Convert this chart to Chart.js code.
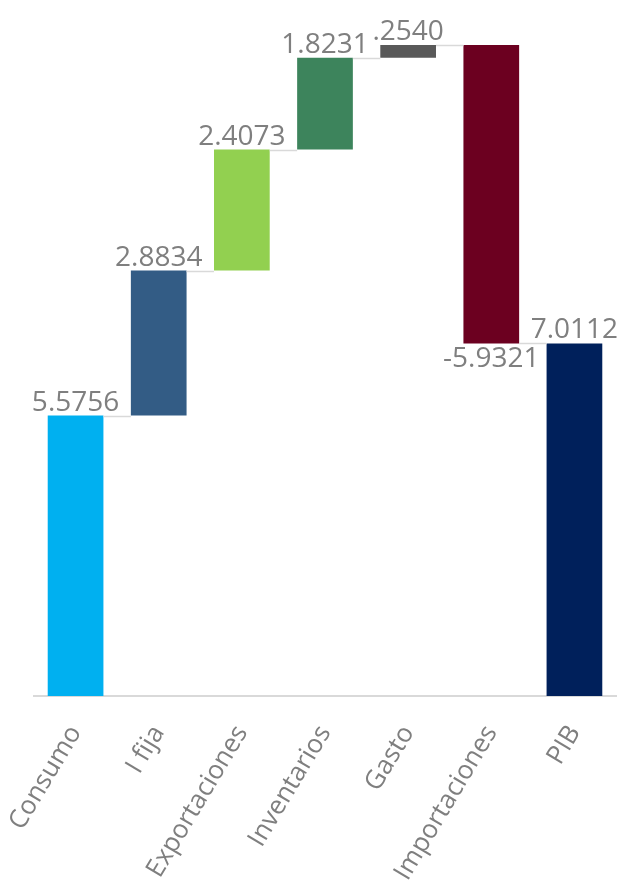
<!DOCTYPE html>
<html>
<head>
<meta charset="utf-8">
<script src="https://cdn.jsdelivr.net/npm/chart.js@4.4.3/dist/chart.umd.min.js"></script>
<style>
  html, body { margin: 0; padding: 0; background: #fff; }
  #wrap { position: relative; width: 621px; height: 888px; }
</style>
</head>
<body>
<div id="wrap"><canvas id="chart"></canvas></div>
<script>
const categories = ['Consumo', 'I fija', 'Exportaciones', 'Inventarios', 'Gasto', 'Importaciones', 'PIB'];
const values = [5.5756, 2.8834, 2.4073, 1.8231, 0.2540, -5.9321, 7.0112];
const valueLabels = ['5.5756', '2.8834', '2.4073', '1.8231', '.2540', '-5.9321', '7.0112'];
const isTotal = [false, false, false, false, false, false, true];
const barColors = ['#00b0f0', '#335c85', '#92d050', '#3d845c', '#595959', '#6c0020', '#00205b'];

// floating ranges for the waterfall
const ranges = [];
let running = 0;
values.forEach((v, i) => {
    if (isTotal[i]) {
        ranges.push([0, v]);
        running = v;
    } else {
        ranges.push([running, running + v]);
        running += v;
    }
});

const textColor = '#7f7f7f';
const fontFamily = '"Open Sans", "Noto Sans", sans-serif';

const waterfallExtras = {
    id: 'waterfallExtras',
    afterDatasetsDraw(chart) {
        const ctx = chart.ctx;
        const meta = chart.getDatasetMeta(0);
        const y = chart.scales.y;
        ctx.save();
        // connector lines
        ctx.strokeStyle = '#d9d9d9';
        ctx.lineWidth = 1.5;
        for (let i = 0; i < meta.data.length - 1; i++) {
            const a = meta.data[i];
            const b = meta.data[i + 1];
            const level = ranges[i][1];
            const py = Math.round(y.getPixelForValue(level)) + 0.5;
            ctx.beginPath();
            ctx.moveTo(a.x + a.width / 2, py);
            ctx.lineTo(b.x - b.width / 2, py);
            ctx.stroke();
        }
        // value labels
        ctx.fillStyle = textColor;
        ctx.font = '28px ' + fontFamily;
        ctx.textAlign = 'center';
        meta.data.forEach((bar, i) => {
            const top = Math.max(ranges[i][0], ranges[i][1]);
            const bottom = Math.min(ranges[i][0], ranges[i][1]);
            if (values[i] >= 0) {
                ctx.textBaseline = 'bottom';
                ctx.fillText(valueLabels[i], bar.x, y.getPixelForValue(top) + 1);
            } else {
                ctx.textBaseline = 'top';
                ctx.fillText(valueLabels[i], bar.x, y.getPixelForValue(bottom) + 2);
            }
        });
        ctx.restore();
    }
};

new Chart(document.getElementById('chart'), {
    type: 'bar',
    data: {
        labels: categories,
        datasets: [{
            data: ranges,
            backgroundColor: barColors,
            borderWidth: 0,
            barPercentage: 0.67,
            categoryPercentage: 1.0
        }]
    },
    options: {
        responsive: true,
        maintainAspectRatio: false,
        animation: false,
        layout: { padding: { top: 2, left: 34, right: 5, bottom: 0 } },
        plugins: {
            legend: { display: false },
            tooltip: { enabled: false }
        },
        scales: {
            x: {
                grid: { display: false, drawTicks: false },
                border: { display: true, color: '#d9d9d9', width: 2 },
                ticks: {
                    color: textColor,
                    font: { size: 26, family: fontFamily },
                    minRotation: 59,
                    maxRotation: 59,
                    autoSkip: false,
                    padding: 24
                },
                afterFit(scale) {
                    scale.height = 192;
                    scale.paddingLeft = 0;
                    scale.paddingRight = 0;
                }
            },
            y: {
                display: false,
                min: 0,
                max: 13.8
            }
        }
    },
    plugins: [waterfallExtras]
});
</script>
</body>
</html>
